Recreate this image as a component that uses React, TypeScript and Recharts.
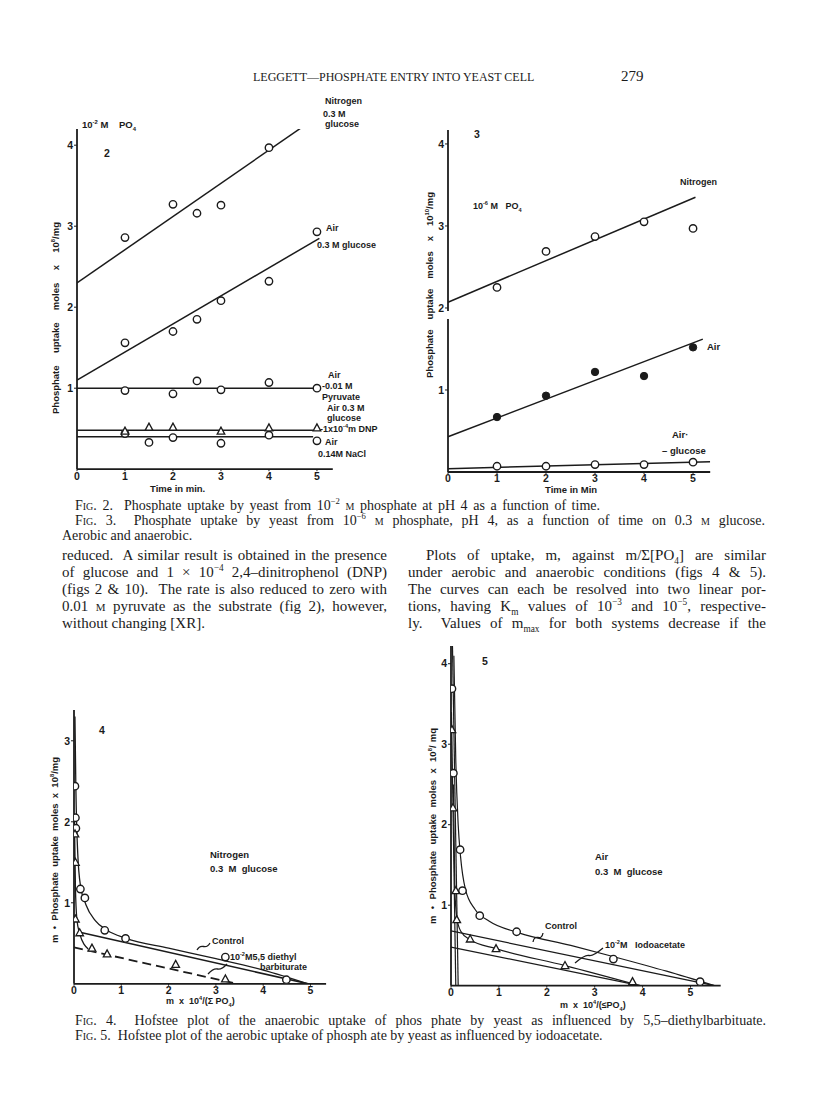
import React from 'react';
import { ScatterChart, Scatter, XAxis, YAxis } from 'recharts';

const INK = '#1b1b1b';
const SANS = '"Liberation Sans", Arial, sans-serif';
const SERIF = '"Liberation Serif", "Times New Roman", serif';

// ---------- Fig 2 : 10^-2 M PO4 ----------
const f2Time = [1, 2, 2.5, 3, 4, 5];
const f2Nitrogen = [2.86, 3.27, 3.16, 3.26, 3.97, 4.49];
const f2NitrogenFitX = [0, 5.05];
const f2NitrogenFitY = [2.3, 4.37];
const f2AirGlucose = [1.56, 1.7, 1.85, 2.08, 2.32, 2.93];
const f2AirGlucoseFitX = [0, 5.05];
const f2AirGlucoseFitY = [1.1, 2.85];
const f2Pyruvate = [0.97, 0.93, 1.09, 0.98, 1.07, 1.0];
const f2PyruvateFitX = [0, 4.92];
const f2PyruvateFitY = [1.0, 1.0];
const f2DnpTime = [1, 1.5, 2, 3, 4, 5];
const f2Dnp = [0.47, 0.52, 0.52, 0.47, 0.51, 0.51];
const f2DnpFitX = [0, 4.92];
const f2DnpFitY = [0.48, 0.48];
const f2NaClTime = [1, 1.5, 2, 3, 4, 5];
const f2NaCl = [0.44, 0.33, 0.39, 0.32, 0.42, 0.35];
const f2NaClFitX = [0, 4.92];
const f2NaClFitY = [0.4, 0.4];

// ---------- Fig 3 : 10^-6 M PO4 ----------
const f3Time = [1, 2, 3, 4, 5];
const f3Nitrogen = [2.25, 2.69, 2.87, 3.05, 2.97];
const f3NitrogenFitX = [0, 5.05];
const f3NitrogenFitY = [2.07, 3.35];
const f3Air = [0.67, 0.93, 1.22, 1.17, 1.52];
const f3AirFitX = [0, 5.2];
const f3AirFitY = [0.43, 1.62];
const f3AirNoGlucose = [0.07, 0.07, 0.09, 0.09, 0.12];
const f3AirNoGlucoseFitX = [0, 5.35];
const f3AirNoGlucoseFitY = [0.04, 0.125];

// ---------- Fig 4 : Hofstee, nitrogen ----------
const f4ControlX = [0.02, 0.03, 0.04, 0.135, 0.23, 0.65, 1.09, 3.2, 4.49];
const f4ControlY = [2.44, 2.05, 1.92, 1.17, 1.06, 0.66, 0.56, 0.33, 0.05];
const f4BarbX = [0.02, 0.03, 0.03, 0.12, 0.38, 0.7, 2.15, 3.2];
const f4BarbY = [1.85, 1.5, 0.8, 0.63, 0.44, 0.37, 0.24, 0.06];
const f4ControlLineX = [0.1, 4.95];
const f4ControlLineY = [0.64, 0];
const f4ControlCurveX = [0.02, 0.04, 0.08, 0.14, 0.25, 0.45, 0.7, 1.1, 2, 3, 4, 4.95];
const f4ControlCurveY = [3.3, 2.4, 1.6, 1.2, 0.98, 0.78, 0.66, 0.56, 0.44, 0.31, 0.17, 0];
const f4BarbLineX = [0, 3.45];
const f4BarbLineY = [0.45, 0];
const f4BarbCurveX = [0.01, 0.03, 0.06, 0.12, 0.3];
const f4BarbCurveY = [2.0, 1.2, 0.8, 0.62, 0.43];

// ---------- Fig 5 : Hofstee, air ----------
const f5ControlX = [0.02, 0.05, 0.19, 0.24, 0.6, 1.37, 3.39, 5.2];
const f5ControlY = [3.69, 2.64, 1.69, 1.18, 0.87, 0.67, 0.33, 0.05];
const f5IodoX = [0.02, 0.04, 0.1, 0.12, 0.4, 0.94, 2.38, 3.79];
const f5IodoY = [3.18, 2.21, 1.18, 0.82, 0.58, 0.46, 0.25, 0.05];
const f5ControlLineX = [0, 5.5];
const f5ControlLineY = [0.68, 0];
const f5ControlCurveX = [0.06, 0.1, 0.15, 0.2, 0.3, 0.5, 0.8, 1.4, 2.5, 3.4, 4.5, 5.5];
const f5ControlCurveY = [4.1, 2.8, 2.0, 1.6, 1.2, 0.95, 0.8, 0.66, 0.5, 0.36, 0.18, 0];
const f5IodoLineX = [0, 3.95];
const f5IodoLineY = [0.48, 0];
const f5IodoCurveX = [0.05, 0.08, 0.12, 0.2, 0.4, 0.94, 2.38, 3.95];
const f5IodoCurveY = [2.5, 1.2, 0.85, 0.68, 0.57, 0.46, 0.25, 0];
const f5SteepAX = [0.03, 0.15];
const f5SteepAY = [4.25, 0];
const f5SteepBX = [0.01, 0.1];
const f5SteepBY = [3.4, 0];

const xTicks = [0, 1, 2, 3, 4, 5];

const pts = (xs: number[], ys: number[]) => xs.map((x, i) => ({ x, y: ys[i] }));

const OpenCircle = (p: any) => (
  <circle cx={p.cx} cy={p.cy} r={3.7} fill="#fff" stroke={INK} strokeWidth={1.4} />
);
const FilledCircle = (p: any) => <circle cx={p.cx} cy={p.cy} r={3.7} fill={INK} stroke={INK} strokeWidth={1} />;
const Triangle = (p: any) => (
  <polygon
    points={`${p.cx},${p.cy - 4} ${p.cx - 3.8},${p.cy + 3} ${p.cx + 3.8},${p.cy + 3}`}
    fill="#fff"
    stroke={INK}
    strokeWidth={1.3}
  />
);
const NoMark = () => <g />;

type Series = {
  key: string;
  data: { x: number; y: number }[];
  shape: any;
  line?: { width?: number; dash?: string; curve?: boolean };
};

type PanelProps = {
  plotLeft: number;
  plotTop: number;
  plotRight: number;
  plotBottom: number;
  xMax: number;
  yMax: number;
  yTicks: number[];
  series: Series[];
};

const ML = 40;
const MT = 8;
const MR = 8;
const XH = 22;

function Panel({ plotLeft, plotTop, plotRight, plotBottom, xMax, yMax, yTicks, series }: PanelProps) {
  const width = plotRight - plotLeft + ML + MR;
  const height = plotBottom - plotTop + MT + XH;
  const tickStyle = { fill: INK, fontSize: 10.5, fontFamily: SANS, fontWeight: 700 };
  return (
    <div style={{ position: 'absolute', left: plotLeft - ML, top: plotTop - MT }}>
      <ScatterChart width={width} height={height} margin={{ top: MT, right: MR, left: 0, bottom: 0 }}>
        <XAxis
          type="number"
          dataKey="x"
          domain={[0, xMax]}
          ticks={xTicks}
          interval={0}
          allowDataOverflow
          height={XH}
          tickSize={2}
          tickMargin={1}
          tick={tickStyle}
          axisLine={{ stroke: INK, strokeWidth: 1.8 }}
          tickLine={{ stroke: INK, strokeWidth: 1 }}
        />
        <YAxis
          type="number"
          dataKey="y"
          domain={[0, yMax]}
          ticks={yTicks}
          interval={0}
          allowDataOverflow
          width={ML}
          tickSize={3}
          tickMargin={1}
          tick={tickStyle}
          axisLine={{ stroke: INK, strokeWidth: 1.8 }}
          tickLine={{ stroke: INK, strokeWidth: 1 }}
        />
        {series.map((s) => (
          <Scatter
            key={s.key}
            data={s.data}
            shape={s.shape}
            isAnimationActive={false}
            fill={INK}
            line={
              s.line
                ? {
                    stroke: INK,
                    strokeWidth: s.line.width ?? 1.5,
                    strokeDasharray: s.line.dash,
                    fill: 'none',
                  }
                : false
            }
            lineJointType={s.line && s.line.curve ? 'monotoneX' : 'linear'}
          />
        ))}
      </ScatterChart>
    </div>
  );
}

function T({
  x,
  y,
  size = 9.5,
  bold = true,
  family = SANS,
  children,
  style,
}: {
  x: number;
  y: number;
  size?: number;
  bold?: boolean;
  family?: string;
  children: React.ReactNode;
  style?: React.CSSProperties;
}) {
  return (
    <div
      style={{
        position: 'absolute',
        left: x,
        top: y - size * 0.56,
        fontSize: size,
        lineHeight: `${size}px`,
        fontFamily: family,
        fontWeight: bold ? 700 : 400,
        color: INK,
        whiteSpace: 'nowrap',
        ...style,
      }}
    >
      {children}
    </div>
  );
}

function VLabel({ x, cy, len, children }: { x: number; cy: number; len: number; children: React.ReactNode }) {
  return (
    <div
      style={{
        position: 'absolute',
        left: x - len / 2,
        top: cy - 6,
        width: len,
        height: 12,
        lineHeight: '12px',
        fontSize: 9.5,
        fontFamily: SANS,
        fontWeight: 700,
        color: INK,
        textAlign: 'justify',
        textAlignLast: 'justify',
        transform: 'rotate(-90deg)',
        transformOrigin: 'center center',
        whiteSpace: 'nowrap',
      }}
    >
      {children}
    </div>
  );
}

function JLine({
  x,
  y,
  w,
  size = 15,
  last = false,
  children,
}: {
  x: number;
  y: number;
  w: number;
  size?: number;
  last?: boolean;
  children: React.ReactNode;
}) {
  return (
    <div
      style={{
        position: 'absolute',
        left: x,
        top: y - size * 0.56,
        width: w,
        fontSize: size,
        lineHeight: `${size}px`,
        fontFamily: SERIF,
        color: INK,
        textAlign: last ? 'left' : 'justify',
        textAlignLast: last ? 'left' : 'justify',
        whiteSpace: last ? 'nowrap' : 'normal',
      }}
    >
      {children}
    </div>
  );
}

const Sup = ({ children }: { children: React.ReactNode }) => (
  <sup style={{ fontSize: '0.62em', verticalAlign: 'super', lineHeight: 0 }}>{children}</sup>
);
const Sub = ({ children }: { children: React.ReactNode }) => (
  <sub style={{ fontSize: '0.62em', verticalAlign: 'sub', lineHeight: 0 }}>{children}</sub>
);
const SC = ({ children }: { children: React.ReactNode }) => (
  <span style={{ fontVariant: 'small-caps' }}>{children}</span>
);

function Leader({ x1, y1, x2, y2 }: { x1: number; y1: number; x2: number; y2: number }) {
  const left = Math.min(x1, x2) - 4;
  const top = Math.min(y1, y2) - 4;
  const w = Math.abs(x2 - x1) + 8;
  const h = Math.abs(y2 - y1) + 8;
  const ax = x1 - left;
  const ay = y1 - top;
  const bx = x2 - left;
  const by = y2 - top;
  const mx = (ax + bx) / 2;
  const my = (ay + by) / 2;
  return (
    <svg style={{ position: 'absolute', left, top }} width={w} height={h}>
      <path
        d={`M${ax},${ay} Q${mx - 4},${my - 1} ${mx},${my} T${bx},${by}`}
        fill="none"
        stroke={INK}
        strokeWidth={1.3}
      />
    </svg>
  );
}

export default function App() {
  const f2: Series[] = [
    { key: 'nf', data: pts(f2NitrogenFitX, f2NitrogenFitY), shape: NoMark, line: {} },
    { key: 'af', data: pts(f2AirGlucoseFitX, f2AirGlucoseFitY), shape: NoMark, line: {} },
    { key: 'pf', data: pts(f2PyruvateFitX, f2PyruvateFitY), shape: NoMark, line: {} },
    { key: 'df', data: pts(f2DnpFitX, f2DnpFitY), shape: NoMark, line: {} },
    { key: 'sf', data: pts(f2NaClFitX, f2NaClFitY), shape: NoMark, line: {} },
    { key: 'n', data: pts(f2Time, f2Nitrogen), shape: OpenCircle },
    { key: 'a', data: pts(f2Time, f2AirGlucose), shape: OpenCircle },
    { key: 'p', data: pts(f2Time, f2Pyruvate), shape: OpenCircle },
    { key: 's', data: pts(f2NaClTime, f2NaCl), shape: OpenCircle },
    { key: 'd', data: pts(f2DnpTime, f2Dnp), shape: Triangle },
  ];
  const f3: Series[] = [
    { key: 'nf', data: pts(f3NitrogenFitX, f3NitrogenFitY), shape: NoMark, line: {} },
    { key: 'af', data: pts(f3AirFitX, f3AirFitY), shape: NoMark, line: {} },
    { key: 'gf', data: pts(f3AirNoGlucoseFitX, f3AirNoGlucoseFitY), shape: NoMark, line: {} },
    { key: 'n', data: pts(f3Time, f3Nitrogen), shape: OpenCircle },
    { key: 'a', data: pts(f3Time, f3Air), shape: FilledCircle },
    { key: 'g', data: pts(f3Time, f3AirNoGlucose), shape: OpenCircle },
  ];
  const f4: Series[] = [
    { key: 'cl', data: pts(f4ControlLineX, f4ControlLineY), shape: NoMark, line: { width: 1.6 } },
    { key: 'cc', data: pts(f4ControlCurveX, f4ControlCurveY), shape: NoMark, line: { width: 1.3, curve: true } },
    { key: 'bl', data: pts(f4BarbLineX, f4BarbLineY), shape: NoMark, line: { width: 1.8, dash: '9 5' } },
    { key: 'bc', data: pts(f4BarbCurveX, f4BarbCurveY), shape: NoMark, line: { width: 1.3, curve: true } },
    { key: 'c', data: pts(f4ControlX, f4ControlY), shape: OpenCircle },
    { key: 'b', data: pts(f4BarbX, f4BarbY), shape: Triangle },
  ];
  const f5: Series[] = [
    { key: 'sa', data: pts(f5SteepAX, f5SteepAY), shape: NoMark, line: { width: 1.2 } },
    { key: 'sb', data: pts(f5SteepBX, f5SteepBY), shape: NoMark, line: { width: 1.2 } },
    { key: 'cl', data: pts(f5ControlLineX, f5ControlLineY), shape: NoMark, line: { width: 1.2 } },
    { key: 'cc', data: pts(f5ControlCurveX, f5ControlCurveY), shape: NoMark, line: { width: 1.2, curve: true } },
    { key: 'il', data: pts(f5IodoLineX, f5IodoLineY), shape: NoMark, line: { width: 1.2 } },
    { key: 'ic', data: pts(f5IodoCurveX, f5IodoCurveY), shape: NoMark, line: { width: 1.2, curve: true } },
    { key: 'c', data: pts(f5ControlX, f5ControlY), shape: OpenCircle },
    { key: 'i', data: pts(f5IodoX, f5IodoY), shape: Triangle },
  ];

  return (
    <div
      style={{
        position: 'absolute',
        left: 0,
        top: 0,
        width: 816,
        height: 1117,
        background: '#fff',
        overflow: 'hidden',
        color: INK,
      }}
    >
      {/* running head */}
      <T x={253} y={78} size={12} bold={false} family={SERIF}>
        LEGGETT—PHOSPHATE ENTRY INTO YEAST CELL
      </T>
      <T x={621} y={77} size={15} bold={false} family={SERIF}>
        279
      </T>

      {/* ---------- Fig 2 ---------- */}
      <Panel
        plotLeft={77}
        plotTop={129.3}
        plotRight={332.8}
        plotBottom={469.5}
        xMax={5.33}
        yMax={4.2}
        yTicks={[1, 2, 3, 4]}
        series={f2}
      />
      <T x={82} y={125} size={9.5}>
        10<Sup>-2</Sup> M&nbsp;&nbsp;&nbsp; PO<Sub>4</Sub>
      </T>
      <T x={104} y={154} size={10.5}>2</T>
      <T x={325} y={102} size={9}>Nitrogen</T>
      <T x={323} y={115} size={9}>0.3 M</T>
      <T x={325} y={125} size={9}>glucose</T>
      <T x={326} y={229} size={9}>Air</T>
      <T x={317} y={246} size={9}>0.3 M glucose</T>
      <T x={328} y={376} size={9}>Air</T>
      <T x={322} y={387} size={9}>-0.01 M</T>
      <T x={322} y={398} size={9}>Pyruvate</T>
      <T x={327} y={409} size={9}>Air 0.3 M</T>
      <T x={327} y={419} size={9}>glucose</T>
      <T x={320} y={430} size={9}>
        -1x10<Sup>-4</Sup>m DNP
      </T>
      <T x={325} y={443} size={9}>Air</T>
      <T x={318} y={455} size={9}>0.14M NaCl</T>
      <T x={150} y={489} size={9.5}>Time in min.</T>
      <VLabel x={56} cy={318} len={192}>
        Phosphate&nbsp; uptake&nbsp; moles&nbsp; x&nbsp; 10<Sup>8</Sup>/mg
      </VLabel>

      {/* ---------- Fig 3 ---------- */}
      <Panel
        plotLeft={448}
        plotTop={130}
        plotRight={710.2}
        plotBottom={472}
        xMax={5.35}
        yMax={4.17}
        yTicks={[1, 2, 3, 4]}
        series={f3}
      />
      {/* break in the y axis of fig 3 */}
      <div style={{ position: 'absolute', left: 445, top: 311, width: 6, height: 8, background: '#fff' }} />
      <T x={474} y={135} size={10.5}>3</T>
      <T x={473} y={207} size={9}>
        10<Sup>-6</Sup> M&nbsp;&nbsp; PO<Sub>4</Sub>
      </T>
      <T x={680} y={183} size={9}>Nitrogen</T>
      <T x={707} y={347} size={9.5}>Air</T>
      <T x={672} y={435} size={9.5}>Air·</T>
      <T x={662} y={451} size={9.5}>– glucose</T>
      <T x={545} y={490} size={9.5}>Time in Min</T>
      <VLabel x={430} cy={285} len={186}>
        Phosphate&nbsp; uptake&nbsp; moles&nbsp; x&nbsp; 10<Sup>10</Sup>/mg
      </VLabel>

      {/* captions fig 2/3 */}
      <JLine x={75} y={507} w={525} size={14}>
        <SC>Fig.</SC> 2.&nbsp; Phosphate uptake by yeast from 10<Sup>−2</Sup> <SC>m</SC> phosphate at pH 4 as a function of
        time.
      </JLine>
      <JLine x={75} y={522} w={690} size={14}>
        <SC>Fig.</SC> 3.&nbsp; Phosphate uptake by yeast from 10<Sup>−6</Sup> <SC>m</SC> phosphate, pH 4, as a function of
        time on 0.3 <SC>m</SC> glucose.
      </JLine>
      <JLine x={62} y={537} w={100} size={14} last>
        Aerobic and anaerobic.
      </JLine>

      {/* body text, left column */}
      <JLine x={62} y={556} w={325}>
        reduced.&nbsp; A similar result is obtained in the presence
      </JLine>
      <JLine x={62} y={573} w={325}>
        of glucose and 1 × 10<Sup>−4</Sup> 2,4–dinitrophenol (DNP)
      </JLine>
      <JLine x={62} y={590} w={325}>
        (figs 2 &amp; 10).&nbsp; The rate is also reduced to zero with
      </JLine>
      <JLine x={62} y={607} w={325}>
        0.01 <SC>m</SC> pyruvate as the substrate (fig 2), however,
      </JLine>
      <JLine x={62} y={624} w={200} last>
        without changing [XR].
      </JLine>

      {/* body text, right column */}
      <JLine x={426} y={556} w={340}>
        Plots of uptake, m, against m/Σ[PO<Sub>4</Sub>] are similar
      </JLine>
      <JLine x={408} y={573} w={358}>
        under aerobic and anaerobic conditions (figs 4 &amp; 5).
      </JLine>
      <JLine x={408} y={590} w={358}>
        The curves can each be resolved into two linear por-
      </JLine>
      <JLine x={408} y={607} w={358}>
        tions, having K<Sub>m</Sub> values of 10<Sup>−3</Sup> and 10<Sup>−5</Sup>, respective-
      </JLine>
      <JLine x={408} y={624} w={358}>
        ly.&nbsp; Values of m<Sub>max</Sub> for both systems decrease if the
      </JLine>

      {/* ---------- Fig 4 ---------- */}
      <Panel
        plotLeft={74}
        plotTop={710.2}
        plotRight={326.1}
        plotBottom={984}
        xMax={5.33}
        yMax={3.38}
        yTicks={[1, 2, 3]}
        series={f4}
      />
      <T x={99} y={731} size={10.5}>4</T>
      <T x={210} y={855} size={9.5}>Nitrogen</T>
      <T x={210} y={869} size={9.5}>
        0.3&nbsp; M&nbsp; glucose
      </T>
      <T x={212} y={942} size={9}>Control</T>
      <Leader x1={197} y1={950} x2={210} y2={943} />
      <T x={230} y={958} size={9}>
        10<Sup>-2</Sup>M5,5 diethyl
      </T>
      <T x={260} y={968} size={9}>barbiturate</T>
      <Leader x1={208} y1={974} x2={227} y2={964} />
      <T x={166} y={1002} size={9}>
        m&nbsp; x&nbsp; 10<Sup>4</Sup>/(Σ PO<Sub>4</Sub>)
      </T>
      <VLabel x={55} cy={850} len={186}>
        m&nbsp; •&nbsp; Phosphate&nbsp; uptake&nbsp; moles&nbsp; x&nbsp; 10<Sup>8</Sup>/mg
      </VLabel>

      {/* ---------- Fig 5 ---------- */}
      <Panel
        plotLeft={451}
        plotTop={646.3}
        plotRight={720.7}
        plotBottom={986}
        xMax={5.63}
        yMax={4.22}
        yTicks={[1, 2, 3, 4]}
        series={f5}
      />
      <T x={482} y={662} size={10.5}>5</T>
      <T x={595} y={857} size={9.5}>Air</T>
      <T x={595} y={872} size={9.5}>
        0.3&nbsp; M&nbsp; glucose
      </T>
      <T x={545} y={927} size={9}>Control</T>
      <Leader x1={533} y1={942} x2={543} y2={933} />
      <T x={605} y={946} size={9}>
        10<Sup>-2</Sup>M&nbsp;&nbsp; Iodoacetate
      </T>
      <Leader x1={575} y1={963} x2={603} y2={948} />
      <T x={560} y={1006} size={9}>
        m&nbsp; x&nbsp; 10<Sup>4</Sup>/(≤PO<Sub>4</Sub>)
      </T>
      <VLabel x={433} cy={826} len={196}>
        m&nbsp; •&nbsp; Phosphate&nbsp; uptake&nbsp; moles&nbsp; x&nbsp; 10<Sup>8</Sup>/&nbsp;mq
      </VLabel>

      {/* captions fig 4/5 */}
      <JLine x={75} y={1022} w={691} size={14}>
        <SC>Fig.</SC> 4.&nbsp; Hofstee plot of the anaerobic uptake of phos phate by yeast as influenced by
        5,5–diethylbarbituate.
      </JLine>
      <JLine x={75} y={1037} w={540} size={14} last>
        <SC>Fig.</SC> 5.&nbsp; Hofstee plot of the aerobic uptake of phosph ate by yeast as influenced by iodoacetate.
      </JLine>
    </div>
  );
}
